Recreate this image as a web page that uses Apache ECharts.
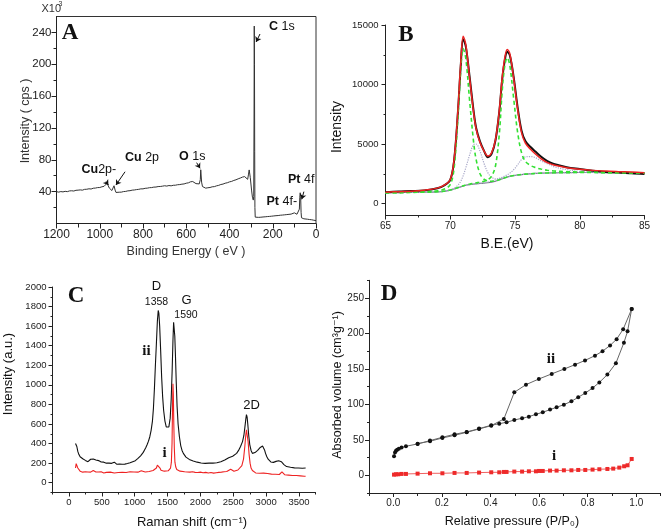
<!DOCTYPE html>
<html><head><meta charset="utf-8">
<script src="https://cdn.jsdelivr.net/npm/echarts@6/dist/echarts.min.js"></script>
<style>html,body{margin:0;padding:0;background:#fff}#c{width:663px;height:532px}</style>
</head><body><div id="c"></div><script>
// ---------- Panel A: XPS survey (binding energy, intensity x10^3 cps) ----------
const surveyData = [[1200,40.0],[1190,39.4],[1180,40.1],[1170,39.7],[1160,40.4],[1150,40.0],[1140,40.9],[1130,41.1],[1120,40.8],[1110,41.7],[1100,41.9],[1090,42.2],[1080,41.9],[1070,42.9],[1060,43.0],[1050,43.6],[1040,43.3],[1030,44.3],[1020,44.5],[1010,45.1],[1000,45.2],[990,46.1],[980,46.7],[972,47.6],[966,50.5],[962,48.2],[956,44.6],[950,43.1],[944,41.4],[938,40.6],[934,47.4],[932,49.0],[929,42.0],[925,39.0],[918,38.6],[910,39.3],[900,39.4],[890,40.1],[880,40.3],[870,41.0],[860,41.2],[850,41.9],[840,42.1],[830,42.6],[820,42.9],[810,43.5],[800,43.5],[790,44.2],[780,44.4],[770,45.0],[760,45.1],[750,45.7],[740,45.8],[730,46.4],[720,46.5],[710,46.9],[700,47.4],[690,47.0],[680,47.7],[670,47.3],[660,48.0],[650,48.1],[640,48.7],[630,48.9],[620,49.4],[610,49.7],[600,50.6],[590,51.1],[580,52.4],[570,52.7],[562,51.4],[555,50.1],[548,49.1],[540,49.7],[535,55.0],[533,67.5],[531,69.0],[529,52.0],[525,46.4],[520,45.1],[510,44.4],[500,44.9],[490,45.2],[480,46.1],[470,46.3],[460,47.3],[450,47.9],[440,49.0],[430,49.5],[420,50.6],[410,51.2],[400,52.3],[390,52.9],[380,54.1],[370,54.9],[360,56.1],[350,57.1],[340,58.3],[330,58.9],[324,59.7],[316,55.5],[312,62.0],[309,67.3],[304,58.0],[298,42.0],[294,33.0],[290,29.4],[288,34.0],[286.5,130],[285.5,248],[284.5,200],[283.5,90],[282.5,20],[281,8.0],[275,7.6],[265,7.7],[255,7.9],[245,8.2],[235,8.4],[225,8.7],[215,8.9],[205,9.2],[195,9.5],[185,9.8],[175,10.0],[165,10.4],[155,10.6],[145,10.9],[135,11.2],[125,11.5],[115,11.8],[106,12.6],[100,13.4],[94,12.6],[88,11.6],[82,12.2],[77,18.0],[75,33.0],[73,38.6],[71,34.0],[69,14.0],[67,7.2],[63,6.3],[56,5.9],[48,6.1],[40,5.4],[30,5.0],[20,4.7],[10,4.1],[0,3.6]];
const surveyArrows = [[[259,238],[277,228]],[[971,52.5],[960,48.4]],[[883,65],[925,48.4]],[[552,76.4],[536,69.3]],[[56,40],[66,30.4]]];
const surveyXStep = 200;
const surveyYLabels = [40,80,120,160,200,240];
const surveyYMinor = [20,60,100,140,180,220];

// ---------- Panel B: Pt 4f high resolution ----------
const beX   = [65,66,67,68,69,69.5,70,70.3,70.6,70.8,71.0,71.2,71.5,71.8,72.0,72.3,72.6,72.9,73.2,73.5,73.8,74.0,74.2,74.4,74.6,74.9,75.2,75.5,75.8,76.2,76.6,77,77.5,78,79,80,81,82,83,84,85];
const ptRaw = [950,1010,1050,1110,1290,1500,2000,3650,7800,11400,13800,13200,10600,7800,6350,5200,4450,3900,4200,5350,7850,10300,11950,12750,12450,10600,8100,6150,5250,4750,4350,3950,3560,3320,3060,2900,2750,2660,2620,2540,2480];
const ptFit = [960,1000,1040,1130,1300,1520,2030,3720,7950,11620,14050,13350,10490,7670,6260,5130,4430,4000,4290,5410,7950,10490,12180,12950,12600,10490,7950,5980,5070,4570,4140,3780,3440,3240,3020,2880,2790,2730,2680,2650,2600];
const ptBg  = [900,920,940,960,990,1030,1130,1230,1330,1400,1470,1540,1600,1640,1660,1690,1720,1750,1800,1880,2000,2080,2160,2230,2290,2350,2400,2440,2470,2500,2530,2550,2570,2580,2600,2610,2610,2600,2590,2580,2570];
const pt0a  = [900,920,950,990,1080,1200,1600,3000,7300,11000,13000,12200,8600,5200,3700,2500,2050,1900,1880,1920,2010,2090,2170,2240,2300,2355,2405,2445,2475,2505,2535,2555,2575,2585,2600,2610,2610,2600,2590,2580,2570];
const pt0b  = [900,920,940,960,990,1030,1135,1240,1345,1420,1495,1570,1640,1700,1740,1800,1880,2000,2300,3200,6000,9300,11500,12250,11600,8800,6000,4300,3550,3200,3020,2900,2800,2740,2680,2650,2630,2610,2595,2585,2575];
const pt2a  = [900,920,940,960,990,1040,1170,1300,1550,1850,2350,3000,4100,4950,5000,4400,3400,2600,2200,2080,2100,2140,2200,2250,2300,2355,2405,2445,2475,2505,2535,2555,2575,2585,2600,2610,2610,2600,2590,2580,2570];
const pt2b  = [900,920,940,960,990,1030,1130,1230,1330,1400,1470,1540,1600,1640,1665,1700,1740,1800,1880,1990,2120,2210,2310,2420,2560,2850,3250,3700,3920,3950,3850,3600,3350,3100,2850,2700,2650,2620,2600,2585,2575];
const beXLabels = [65,70,75,80,85];
const beXMinor = [67.5,72.5,77.5,82.5];
const beYLabels = [0,5000,10000,15000];
const beYMinor = [2500,7500,12500];

// ---------- Panel C: Raman ----------
const ramanII = [[100,400],[110,410],[120,370],[135,320],[150,290],[170,265],[190,250],[210,245],[230,235],[250,228],[270,220],[290,215],[310,228],[330,240],[350,236],[370,242],[390,238],[410,232],[430,225],[450,226],[470,218],[490,212],[510,206],[530,210],[550,204],[570,200],[590,196],[610,200],[630,195],[650,198],[670,205],[690,210],[710,202],[730,188],[750,182],[770,190],[790,185],[810,188],[830,192],[850,190],[870,195],[890,196],[910,200],[930,205],[950,210],[970,215],[990,220],[1010,225],[1030,236],[1050,248],[1070,262],[1090,275],[1110,292],[1130,310],[1150,335],[1170,360],[1190,390],[1210,425],[1230,470],[1250,535],[1270,630],[1285,760],[1300,960],[1315,1200],[1330,1420],[1345,1650],[1358,1760],[1368,1730],[1380,1600],[1395,1350],[1410,1080],[1425,880],[1440,740],[1460,630],[1480,570],[1500,552],[1520,570],[1540,660],[1555,850],[1570,1150],[1582,1450],[1592,1640],[1600,1620],[1610,1500],[1620,1300],[1632,1030],[1645,780],[1660,600],[1680,470],[1700,380],[1720,330],[1740,300],[1760,280],[1780,262],[1800,250],[1830,238],[1860,230],[1890,222],[1920,215],[1950,210],[1980,205],[2010,202],[2040,206],[2070,198],[2100,204],[2130,200],[2160,196],[2190,200],[2220,198],[2250,204],[2280,208],[2310,215],[2340,222],[2370,232],[2400,242],[2430,255],[2460,262],[2490,270],[2520,282],[2550,300],[2580,330],[2610,370],[2640,420],[2660,480],[2675,560],[2690,650],[2700,695],[2710,670],[2720,600],[2735,480],[2750,390],[2770,330],[2790,300],[2810,298],[2830,308],[2850,318],[2870,330],[2890,345],[2910,360],[2930,372],[2945,375],[2960,360],[2975,335],[2990,300],[3010,265],[3030,240],[3050,225],[3070,212],[3090,205],[3110,208],[3130,215],[3150,218],[3170,222],[3190,224],[3210,225],[3230,215],[3250,200],[3270,185],[3290,172],[3310,165],[3340,160],[3370,158],[3400,156],[3430,152],[3460,154],[3490,150],[3520,152],[3550,148],[3580,150],[3600,150]];
const ramanI = [[100,150],[110,195],[120,185],[135,150],[150,130],[170,118],[190,112],[210,108],[230,110],[250,112],[270,105],[290,110],[310,112],[330,108],[350,115],[370,125],[380,138],[390,128],[410,110],[430,105],[450,110],[470,104],[490,112],[500,130],[510,118],[530,100],[550,102],[570,106],[600,104],[630,108],[660,102],[690,100],[720,106],[750,104],[780,100],[810,106],[840,110],[870,104],[900,108],[930,112],[960,106],[990,110],[1020,115],[1050,108],[1080,120],[1100,122],[1130,112],[1160,110],[1190,118],[1220,115],[1250,120],[1280,125],[1310,132],[1330,150],[1345,180],[1360,200],[1372,185],[1385,150],[1400,128],[1420,120],[1450,118],[1480,118],[1510,122],[1530,130],[1545,150],[1558,210],[1568,400],[1576,800],[1582,1010],[1588,900],[1595,600],[1603,350],[1612,210],[1625,160],[1640,135],[1660,125],[1690,118],[1720,114],[1760,112],[1800,110],[1840,108],[1880,112],[1920,106],[1960,104],[2000,108],[2040,102],[2080,106],[2120,100],[2160,104],[2200,98],[2240,102],[2280,106],[2320,108],[2360,112],[2400,115],[2430,122],[2460,138],[2480,128],[2510,118],[2540,124],[2570,130],[2600,145],[2630,175],[2655,240],[2675,370],[2690,490],[2700,540],[2712,520],[2725,420],[2740,290],[2755,200],[2770,150],[2790,125],[2810,110],[2840,100],[2870,98],[2900,96],[2930,94],[2960,98],[2990,92],[3020,94],[3050,90],[3080,88],[3110,92],[3140,86],[3170,88],[3200,84],[3225,88],[3240,110],[3250,125],[3262,95],[3280,82],[3310,80],[3340,78],[3370,76],[3400,74],[3430,72],[3460,74],[3490,70],[3520,70],[3550,68],[3580,66],[3600,66]];
const ramanXLabels = [0,500,1000,1500,2000,2500,3000,3500];
const ramanXMinor = [-250,250,750,1250,1750,2250,2750,3250,3750];
const ramanYLabels = [0,200,400,600,800,1000,1200,1400,1600,1800,2000];
const ramanYMinor = [-100,100,300,500,700,900,1100,1300,1500,1700,1900];

// ---------- Panel D: N2 isotherms ----------
const isoIIads = [[0.003,26.8],[0.007,32.0],[0.011,34.5],[0.016,36.0],[0.023,37.5],[0.034,39.0],[0.052,40.9],[0.1,44.2],[0.151,48.9],[0.202,53.6],[0.252,57.8],[0.302,61.1],[0.353,65.8],[0.403,70.5],[0.436,72.8],[0.466,74.7],[0.498,78.0],[0.53,80.4],[0.558,82.7],[0.587,86.0],[0.615,88.8],[0.645,92.6],[0.672,95.9],[0.702,99.6],[0.733,104.3],[0.761,110],[0.79,116],[0.82,123],[0.848,131],[0.881,142],[0.916,158],[0.949,187],[0.964,203],[0.981,234.5]];
const isoIIdes = [[0.981,234.5],[0.946,206],[0.919,192],[0.892,183],[0.861,175],[0.83,168.7],[0.789,162],[0.748,156],[0.704,150],[0.652,143],[0.599,135.8],[0.546,127.8],[0.498,117],[0.455,79.4],[0.403,70.0],[0.353,65.3],[0.302,60.6],[0.252,56.4],[0.202,52.6],[0.151,48.0],[0.1,44.6]];
const isoI = [[0.003,0.9],[0.011,1.4],[0.02,1.4],[0.034,1.9],[0.052,1.9],[0.1,2.3],[0.151,2.8],[0.202,2.8],[0.252,3.3],[0.302,3.3],[0.353,3.8],[0.403,4.2],[0.436,4.2],[0.455,4.7],[0.466,4.7],[0.498,5.2],[0.53,5.2],[0.558,5.6],[0.587,5.6],[0.6,6.1],[0.615,6.1],[0.645,6.6],[0.672,6.6],[0.702,7.0],[0.733,7.0],[0.761,7.5],[0.79,7.5],[0.82,8.0],[0.848,8.5],[0.881,8.9],[0.905,9.4],[0.93,10.8],[0.95,12.7],[0.964,14.1],[0.981,23]];
const isoXLabels = [0,0.2,0.4,0.6,0.8,1.0];
const isoXMinor = [-0.1,0.1,0.3,0.5,0.7,0.9,1.1];
const isoYLabels = [0,50,100,150,200,250];
const isoYMinor = [-25,25,75,125,175,225,275];

const SANS = '"Liberation Sans","DejaVu Sans",sans-serif';
const SERIF = '"Liberation Serif","DejaVu Serif",serif';
const INK = '#222';

function axisPair(dim, g, min, max, labels, minor, o) {
  const pos = dim === 'x' ? 'bottom' : 'left';
  const main = {
    type: 'value', gridIndex: g, position: pos, min: min, max: max,
    axisLine: { show: true, onZero: false, lineStyle: { color: INK, width: 1 } },
    axisTick: { show: true, inside: false, length: o.major || 4, lineStyle: { color: INK, width: 1 } },
    axisLabel: { show: true, hideOverlap: false, margin: o.margin, fontSize: o.fs, color: INK, fontFamily: SANS,
      lineHeight: o.fs, formatter: o.fmt || (v => String(v)) },
    splitLine: { show: false }, minorTick: { show: false }, minorSplitLine: { show: false }
  };
  if (o.interval) {
    main.interval = o.interval;
    main.minorTick = { show: true, splitNumber: 2, length: o.minor || 2, lineStyle: { color: INK, width: 1 } };
  } else {
    main.axisTick.customValues = labels;
    main.axisLabel.customValues = labels;
  }
  const mn = {
    type: 'value', gridIndex: g, position: o.overlayPos || pos, min: min, max: max,
    axisLine: { show: false, onZero: false },
    axisTick: { show: !!minor, inside: false, length: o.minor || 2, customValues: minor || [], lineStyle: { color: INK, width: 1 } },
    axisLabel: { show: false }, splitLine: { show: false }
  };
  return [main, mn];
}

// Panel A's binding-energy axis runs right-to-left: plotted as -BE, labelled |v|
const xAxes = [].concat(
  axisPair('x', 0, -1200, 0, null, null, { interval: surveyXStep, overlayPos: 'top', margin: 5, fs: 12, major: 5, minor: 4,
    fmt: v => String(Math.abs(v)) }),
  axisPair('x', 1, 65, 85, beXLabels, beXMinor, { margin: 6, fs: 10, major: 4, minor: 2 }),
  axisPair('x', 2, -250, 3750, ramanXLabels, ramanXMinor, { margin: 5, fs: 9.5, major: 4, minor: 2 }),
  axisPair('x', 3, -0.1, 1.1, isoXLabels, isoXMinor, { margin: 5, fs: 10, major: 4, minor: 3, fmt: v => Number(v).toFixed(1) })
);
const yAxes = [].concat(
  axisPair('y', 0, 0, 260, surveyYLabels, surveyYMinor, { margin: 5, fs: 11.5, major: 5, minor: 3 }),
  axisPair('y', 1, -1000, 15000, beYLabels, beYMinor, { margin: 7, fs: 9.5, major: 4, minor: 2 }),
  axisPair('y', 2, -100, 2000, ramanYLabels, ramanYMinor, { margin: 6, fs: 9.5, major: 4, minor: 2 }),
  axisPair('y', 3, -25, 275, isoYLabels, isoYMinor, { margin: 5, fs: 10, major: 4, minor: 2 })
);

const zip = (xs, ys) => xs.map((x, i) => [x, ys[i]]);
const flipBE = p => [-p[0], p[1]];
function bLine(ys, color, width, type, z) {
  return { type: 'line', xAxisIndex: 2, yAxisIndex: 2, data: zip(beX, ys), symbol: 'none', smooth: 0.35, z: z,
    lineStyle: { color: color, width: width, type: type }, silent: true };
}

const series = [
  { type: 'line', xAxisIndex: 0, yAxisIndex: 0, data: surveyData.map(flipBE), symbol: 'none', silent: true,
    lineStyle: { color: '#333', width: 1 },
    markLine: { silent: true, symbol: ['none', 'arrow'], symbolSize: 5, animation: false, label: { show: false },
      lineStyle: { color: '#111', width: 1, type: 'solid' },
      data: surveyArrows.map(a => [{ coord: flipBE(a[0]) }, { coord: flipBE(a[1]) }]) } },
  bLine(ptBg, '#777788', 1.2, 'solid', 2),
  bLine(pt2a, '#a8a8c8', 1.2, 'dotted', 3),
  bLine(pt2b, '#a8a8c8', 1.2, 'dotted', 3),
  bLine(ptRaw, '#111111', 2, 'solid', 4),
  bLine(pt0a, '#33e033', 1.6, [4, 3], 5),
  bLine(pt0b, '#33e033', 1.6, [4, 3], 5),
  bLine(ptFit, '#ee2222', 1.5, 'solid', 6),
  { type: 'line', xAxisIndex: 4, yAxisIndex: 4, data: ramanII, symbol: 'none', silent: true, lineStyle: { color: '#111', width: 1.1 } },
  { type: 'line', xAxisIndex: 4, yAxisIndex: 4, data: ramanI, symbol: 'none', silent: true, lineStyle: { color: '#ee2222', width: 1.1 } },
  { type: 'line', xAxisIndex: 6, yAxisIndex: 6, data: isoIIads, symbol: 'circle', symbolSize: 4, silent: true,
    itemStyle: { color: '#111' }, lineStyle: { color: '#666', width: 1 } },
  { type: 'line', xAxisIndex: 6, yAxisIndex: 6, data: isoIIdes, symbol: 'circle', symbolSize: 4, silent: true,
    itemStyle: { color: '#111' }, lineStyle: { color: '#666', width: 1 } },
  { type: 'line', xAxisIndex: 6, yAxisIndex: 6, data: isoI, symbol: 'rect', symbolSize: 4, silent: true,
    itemStyle: { color: '#ee2a2a' }, lineStyle: { color: '#f06060', width: 1 } }
];

function T(text, x, y, o) {
  o = o || {};
  const st = { text: text, fill: o.color || '#111', fontSize: o.size || 12, fontFamily: o.family || SANS,
    fontWeight: o.weight || 'normal', textAlign: o.align || 'center', textVerticalAlign: 'middle',
    align: o.align || 'center', verticalAlign: 'middle' };
  if (o.rich) st.rich = o.rich;
  return { type: 'text', silent: true, z: 100, x: x, y: y, rotation: o.rot || 0, style: st };
}
const boldRich = { b: { fontWeight: 'bold', fontSize: 12.5, fontFamily: SANS, fill: '#111' } };
const graphics = [
  T('A', 70, 33, { family: SERIF, weight: 'bold', size: 23 }),
  T('B', 406, 35, { family: SERIF, weight: 'bold', size: 23 }),
  T('C', 76, 296, { family: SERIF, weight: 'bold', size: 23 }),
  T('D', 389, 294, { family: SERIF, weight: 'bold', size: 23 }),
  T('X10', 41.5, 9, { align: 'left', size: 11, color: '#333' }),
  T('3', 58.5, 4, { align: 'left', size: 7, color: '#333' }),
  T('{b|C} 1s', 269, 27, { align: 'left', size: 12.5, rich: boldRich }),
  T('{b|Cu}2p-', 81.5, 169.5, { align: 'left', size: 12.5, rich: boldRich }),
  T('{b|Cu} 2p', 125, 158, { align: 'left', size: 12.5, rich: boldRich }),
  T('{b|O} 1s', 179, 156.5, { align: 'left', size: 12.5, rich: boldRich }),
  T('{b|Pt} 4f', 288, 180, { align: 'left', size: 12.5, rich: boldRich }),
  T('{b|Pt} 4f-', 266.5, 201.5, { align: 'left', size: 12.5, rich: boldRich }),
  T('Intensity ( cps )', 26, 121, { rot: Math.PI / 2, size: 12.5, color: '#333' }),
  T('Binding Energy ( eV )', 186, 252, { size: 12.5, color: '#333' }),
  T('Intensity', 337, 127, { rot: Math.PI / 2, size: 14 }),
  T('B.E.(eV)', 507, 244, { size: 14 }),
  T('D', 156.5, 286.5, { size: 13 }),
  T('1358', 156.5, 302, { size: 10.5 }),
  T('G', 186.5, 300.5, { size: 13 }),
  T('1590', 186, 315, { size: 10.5 }),
  T('2D', 251.5, 405, { size: 13 }),
  T('ii', 146.5, 351, { family: SERIF, weight: 'bold', size: 15 }),
  T('i', 164.5, 453, { family: SERIF, weight: 'bold', size: 15 }),
  T('Intensity (a.u.)', 8.5, 374, { rot: Math.PI / 2, size: 13 }),
  T('Raman shift (cm⁻¹)', 192, 522, { size: 13 }),
  T('ii', 551, 359, { family: SERIF, weight: 'bold', size: 15 }),
  T('i', 554, 456.5, { family: SERIF, weight: 'bold', size: 15 }),
  T('Absorbed volume (cm³g⁻¹)', 338, 385, { rot: Math.PI / 2, size: 12.5 }),
  T('Relative pressure (P/P₀)', 512, 522, { size: 12.5 })
];

const chart = echarts.init(document.getElementById('c'), null, { renderer: 'canvas' });
chart.setOption({
  animation: false,
  backgroundColor: '#fff',
  grid: [
    { left: 56.5, top: 16.5, width: 259.5, height: 207, show: true, borderColor: '#333', borderWidth: 1, backgroundColor: 'transparent', containLabel: false, outerBoundsMode: 'none' },
    { left: 385.5, top: 25, width: 259, height: 190.5, containLabel: false, outerBoundsMode: 'none' },
    { left: 52.5, top: 287, width: 263, height: 205.5, containLabel: false, outerBoundsMode: 'none' },
    { left: 369, top: 280.3, width: 291.6, height: 212.7, containLabel: false, outerBoundsMode: 'none' }
  ],
  xAxis: xAxes,
  yAxis: yAxes,
  series: series,
  graphic: graphics
});
</script></body></html>
